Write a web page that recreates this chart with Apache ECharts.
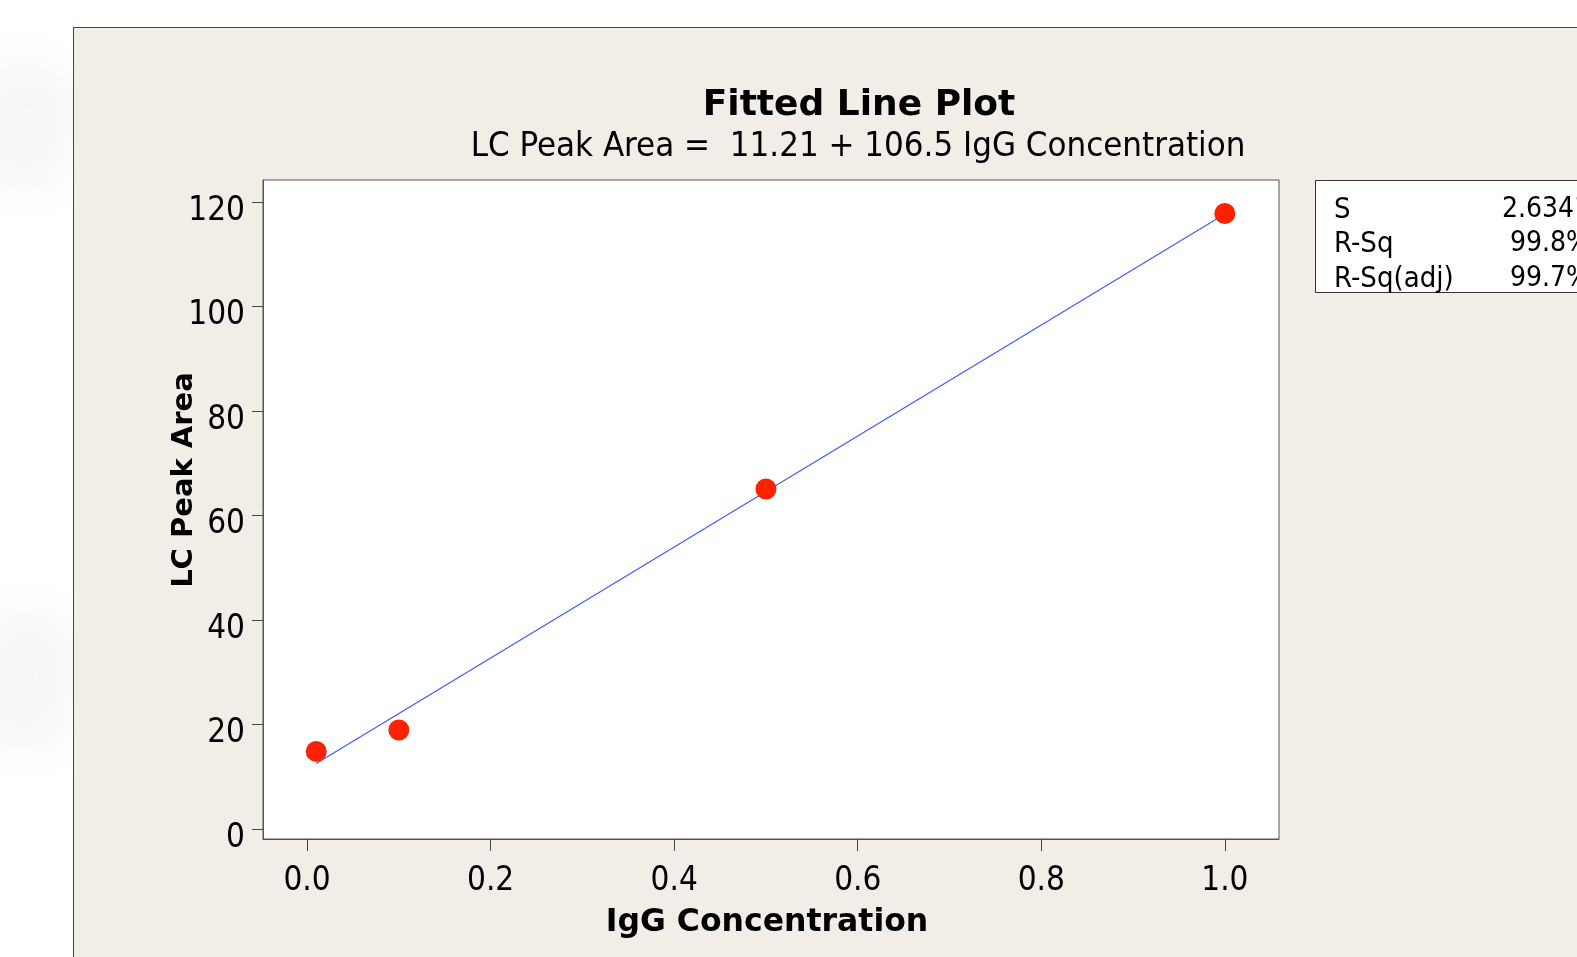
<!DOCTYPE html>
<html>
<head>
<meta charset="utf-8">
<script src="https://cdn.jsdelivr.net/npm/echarts@6/dist/echarts.min.js"></script>
<style>
html,body{margin:0;padding:0;background:#fff;overflow:hidden;}
#panel{position:absolute;left:73px;top:27px;width:1600px;height:1000px;background:#f2eee7;border:1px solid #444;box-sizing:border-box;}
.blur{position:absolute;background:#e6e6e6;filter:blur(20px);opacity:0.3;}
#chart{position:absolute;left:0;top:0;width:1577px;height:957px;}
</style>
</head>
<body>
<div class="blur" style="left:-30px;top:60px;width:110px;height:130px;border-radius:40px;transform:rotate(15deg);"></div>
<div class="blur" style="left:-30px;top:610px;width:110px;height:140px;border-radius:40px;transform:rotate(15deg);"></div>
<div id="panel"></div>
<div id="chart"></div>
<script>
// ---- data ----
var concX = [0.01, 0.1, 0.5, 1.0];
var peakY = [14.9, 19.0, 65.1, 117.8];
var fitX = [0.01, 1.0];
var fitY = [12.6, 117.7];
var xTicks = [0.0, 0.2, 0.4, 0.6, 0.8, 1.0];
var yTicks = [0, 20, 40, 60, 80, 100, 120];
var statNames = ['S', 'R-Sq', 'R-Sq(adj)'];
var statValues = ['2.6341', '99.8%', '99.7%'];
var titleText = 'Fitted Line Plot';
var subtitleText = 'LC Peak Area =  11.21 + 106.5 IgG Concentration';
var xTitle = 'IgG Concentration';
var yTitle = 'LC Peak Area';

var pts = concX.map(function (x, i) { return [x, peakY[i]]; });
var fit = fitX.map(function (x, i) { return [x, fitY[i]]; });

var FONT = "'DejaVu Sans Condensed', 'Liberation Sans', sans-serif";
var BOLD = "'DejaVu Sans', sans-serif";

var chart = echarts.init(document.getElementById('chart'), null, {renderer: 'canvas'});

var statGraphics = [{
  type: 'rect', z: 10,
  shape: {x: 1315.5, y: 180.5, width: 400, height: 112},
  style: {fill: '#fff', stroke: '#333', lineWidth: 1}
}];
var rowY = [210, 244, 279];
statNames.forEach(function (n, i) {
  statGraphics.push({type: 'text', z: 11, x: 1334, y: rowY[i],
    style: {text: n, font: '29px ' + FONT, fill: '#000', textAlign: 'left', textVerticalAlign: 'middle'}});
  statGraphics.push({type: 'text', z: 11, x: 1590, y: rowY[i],
    style: {text: statValues[i], font: '28px ' + FONT, fill: '#000', textAlign: 'right', textVerticalAlign: 'middle'}});
});

chart.setOption({
  backgroundColor: 'transparent',
  animation: false,
  grid: {left: 263, top: 180, width: 1016, height: 659, show: true, backgroundColor: '#fff', borderColor: '#555', borderWidth: 1, containLabel: false},
  xAxis: {
    type: 'value', min: -0.048, max: 1.059,
    axisLine: {show: true, onZero: false, lineStyle: {color: '#555', width: 1}},
    axisTick: {show: true, length: 12, lineStyle: {color: '#444'}, customValues: xTicks},
    axisLabel: {show: true, customValues: xTicks, margin: 26, color: '#000', fontSize: 33, fontFamily: FONT,
      formatter: function (v) { return Number(v).toFixed(1); }},
    splitLine: {show: false}
  },
  yAxis: {
    type: 'value', min: -1.86, max: 124.2,
    axisLine: {show: true, onZero: false, lineStyle: {color: '#555', width: 1}},
    axisTick: {show: true, length: 11, lineStyle: {color: '#444'}, customValues: yTicks},
    axisLabel: {show: true, customValues: yTicks, margin: 18, color: '#000', fontSize: 33, fontFamily: FONT,
      verticalAlign: 'top', lineHeight: 18},
    splitLine: {show: false}
  },
  series: [
    {type: 'line', data: fit, showSymbol: false, symbol: 'none', lineStyle: {color: '#3d5cff', width: 1.2}, z: 2, silent: true},
    {type: 'scatter', data: pts, symbol: 'circle', symbolSize: 21, itemStyle: {color: '#ff2200', opacity: 1}, z: 3}
  ],
  graphic: [
    {type: 'text', x: 859, y: 106, style: {text: titleText, font: 'bold 36px ' + BOLD, fill: '#000', textAlign: 'center', textVerticalAlign: 'middle'}},
    {type: 'text', x: 858, y: 147, style: {text: subtitleText, font: '34.5px ' + FONT, fill: '#000', textAlign: 'center', textVerticalAlign: 'middle'}},
    {type: 'text', x: 767, y: 923, style: {text: xTitle, font: 'bold 31.5px ' + BOLD, fill: '#000', textAlign: 'center', textVerticalAlign: 'middle'}},
    {type: 'text', x: 184, y: 480, rotation: Math.PI / 2, style: {text: yTitle, font: 'bold 29px ' + BOLD, fill: '#000', textAlign: 'center', textVerticalAlign: 'middle'}}
  ].concat(statGraphics)
});
</script>
</body>
</html>
